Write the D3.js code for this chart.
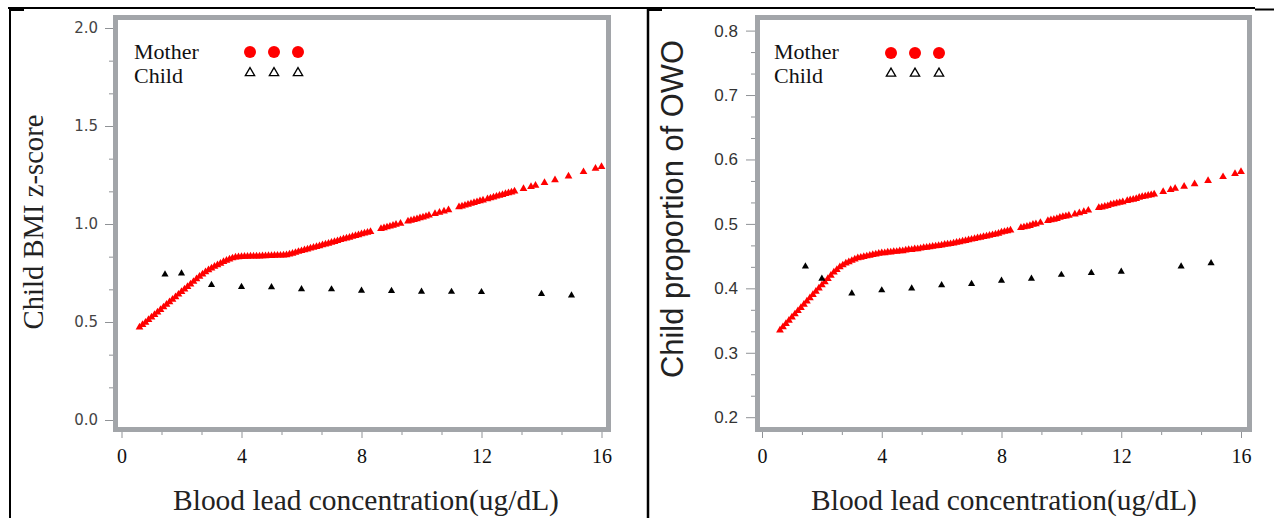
<!DOCTYPE html>
<html><head><meta charset="utf-8">
<script src="https://cdn.jsdelivr.net/npm/d3@7"></script>
<style>body{margin:0;background:#fff}svg{display:block}</style>
</head><body><svg id="c" width="1274" height="518"></svg>
<script>
// ---------------- DATA ----------------
const xTicks = [0, 4, 8, 12, 16];
const xTickLabels = ["0", "4", "8", "12", "16"];
const bmiTicks = [0.0, 0.5, 1.0, 1.5, 2.0];
const bmiTickLabels = ["0.0", "0.5", "1.0", "1.5", "2.0"];
const owoTicks = [0.2, 0.3, 0.4, 0.5, 0.6, 0.7, 0.8];
const owoTickLabels = ["0.2", "0.3", "0.4", "0.5", "0.6", "0.7", "0.8"];
const seriesNames = ["Mother", "Child"];

// Mother blood lead concentration (ug/dL)
const motherLead = [
  0.6,0.7,0.8,0.9,1.0,1.1,1.2,1.3,1.4,1.5,
  1.6,1.7,1.8,1.9,2.0,2.1,2.2,2.3,2.4,2.5,
  2.6,2.7,2.8,2.9,3.0,3.1,3.2,3.3,3.4,3.5,
  3.6,3.7,3.8,3.9,4.0,4.1,4.2,4.3,4.4,4.5,
  4.6,4.7,4.8,4.9,5.0,5.1,5.2,5.3,5.4,5.5,
  5.6,5.7,5.8,5.9,6.0,6.1,6.2,6.3,6.4,6.5,
  6.6,6.7,6.8,6.9,7.0,7.1,7.2,7.3,7.4,7.5,
  7.6,7.7,7.8,7.9,8.0,8.1,8.2,8.3,
  8.65,8.75,8.85,8.95,9.05,9.15,9.3,9.55,9.65,9.75,
  9.85,9.95,10.05,10.15,10.25,10.45,10.6,10.75,10.9,11.25,
  11.35,11.45,11.55,11.65,11.75,11.85,11.95,12.05,12.2,12.3,
  12.4,12.5,12.6,12.7,12.8,12.9,13.0,13.1,13.4,13.65,
  13.8,14.1,14.45,14.9,15.4,15.8,16.0
];
// Child BMI z-score predicted by mother's lead
const motherBMI = [
  .473,.486,.498,.511,.524,.537,.550,.563,.576,.589,
  .602,.615,.628,.641,.654,.667,.680,.693,.706,.719,
  .732,.744,.755,.765,.774,.783,.791,.799,.807,.814,
  .820,.826,.830,.832,.833,.834,.834,.835,.835,.836,
  .836,.837,.837,.838,.838,.839,.840,.840,.841,.842,
  .846,.850,.854,.859,.863,.867,.871,.876,.880,.884,
  .888,.893,.897,.901,.906,.910,.914,.919,.923,.927,
  .931,.936,.940,.944,.949,.953,.957,.961,
  .976,.980,.984,.988,.992,.997,1.003,1.014,1.018,1.022,
  1.026,1.031,1.035,1.039,1.044,1.052,1.059,1.065,1.072,1.087,
  1.091,1.095,1.100,1.104,1.108,1.113,1.117,1.121,1.128,1.132,
  1.136,1.141,1.145,1.149,1.154,1.158,1.162,1.167,1.180,1.190,
  1.197,1.210,1.225,1.244,1.266,1.283,1.292
];
// Child proportion of OWO predicted by mother's lead
const motherOWO = [
  .335,.340,.345,.350,.355,.360,.365,.370,.375,.380,
  .385,.390,.395,.400,.405,.410,.415,.420,.425,.429,
  .433,.436,.439,.441,.443,.445,.447,.448,.449,.450,
  .451,.452,.453,.454,.455,.455,.456,.456,.457,.457,
  .458,.458,.459,.460,.460,.461,.461,.462,.463,.4635,
  .464,.465,.4655,.466,.467,.468,.4685,.469,.470,.471,
  .472,.473,.474,.475,.476,.477,.478,.479,.480,.481,
  .482,.483,.484,.485,.487,.488,.489,.490,
  .494,.495,.496,.497,.499,.500,.502,.505,.506,.507,
  .508,.510,.511,.512,.513,.515,.517,.519,.521,.525,
  .526,.527,.528,.530,.531,.532,.533,.534,.536,.537,
  .538,.539,.541,.542,.543,.544,.545,.546,.550,.553,
  .555,.558,.562,.567,.573,.578,.581
];
// Child blood lead concentration (ug/dL)
const childLead = [1.45, 2, 3, 4, 5, 6, 7, 8, 9, 10, 11, 12, 14, 15];
const childBMI  = [.743,.748,.689,.679,.678,.668,.667,.660,.659,.655,.654,.653,.643,.636];
const childOWO  = [.434,.415,.392,.397,.400,.405,.407,.412,.415,.421,.424,.426,.434,.439];

// ---------------- DRAW ----------------
const svg = d3.select('#c');
const SERIF = "'Liberation Serif','Times New Roman',serif";
const SANS = "'Liberation Sans',Arial,sans-serif";
const FRAME = "#a2a5a9";
const TICK = "#8f9296";

// table borders
const bl = svg.append('g').attr('stroke', '#000').attr('fill', 'none');
bl.append('line').attr('x1', 8).attr('x2', 1255).attr('y1', 8).attr('y2', 8).attr('stroke-width', 2);
bl.append('line').attr('x1', 1255).attr('x2', 1274).attr('y1', 9.5).attr('y2', 9.5).attr('stroke-width', 2);
bl.append('line').attr('x1', 10).attr('x2', 10).attr('y1', 7).attr('y2', 518).attr('stroke-width', 2);
bl.append('line').attr('x1', 9).attr('x2', 24).attr('y1', 10).attr('y2', 10).attr('stroke-width', 2);
bl.append('line').attr('x1', 648).attr('x2', 648).attr('y1', 7).attr('y2', 518).attr('stroke-width', 2.5);
bl.append('line').attr('x1', 647).attr('x2', 662).attr('y1', 10).attr('y2', 10).attr('stroke-width', 2);

function fit(sel, target) {
  const w = sel.node().getComputedTextLength();
  const fs = parseFloat(sel.attr('font-size'));
  sel.attr('font-size', (fs * target / w).toFixed(2));
}

function minorValues(majors, n) {
  const out = [];
  for (let i = 0; i < majors.length - 1; i++) {
    const a = majors[i], b = majors[i + 1];
    for (let k = 1; k <= n; k++) out.push(a + (b - a) * k / (n + 1));
  }
  return out;
}

function panel(c) {
  const g = svg.append('g');
  const x = d3.scaleLinear().domain([0, 16]).range(c.xRange);
  const y = d3.scaleLinear().domain(c.yDomain).range(c.yRange);
  const f = c.frame; // outer box

  // frame
  g.append('rect').attr('x', f.x0 + 2.5).attr('y', f.y0 + 2.5)
    .attr('width', f.x1 - f.x0 - 5).attr('height', f.y1 - f.y0 - 5)
    .attr('fill', '#fff').attr('stroke', FRAME).attr('stroke-width', 5);

  // y axis
  const ya = g.append('g').attr('transform', `translate(${f.x0},0)`)
    .call(d3.axisLeft(y).tickValues(c.yTicks).tickSize(c.yTickSize)
      .tickPadding(c.yPad).tickFormat((d, i) => c.yLabels[i]));
  ya.select('.domain').remove();
  ya.selectAll('line').attr('stroke', TICK);
  ya.selectAll('text').attr('font-family', c.yFont).attr('font-size', c.yFontSize).attr('fill', c.yColor);
  const ym = g.append('g').attr('transform', `translate(${f.x0},0)`)
    .call(d3.axisLeft(y).tickValues(minorValues(c.yTicks, 2)).tickSize(4).tickFormat(''));
  ym.select('.domain').remove();
  ym.selectAll('line').attr('stroke', TICK);

  // x axis
  const xa = g.append('g').attr('transform', `translate(0,${f.y1})`)
    .call(d3.axisBottom(x).tickValues(xTicks).tickSize(6).tickPadding(11)
      .tickFormat((d, i) => xTickLabels[i]));
  xa.select('.domain').remove();
  xa.selectAll('line').attr('stroke', TICK);
  xa.selectAll('text').attr('font-family', SERIF).attr('font-size', 20).attr('fill', '#111');
  const xm = g.append('g').attr('transform', `translate(0,${f.y1})`)
    .call(d3.axisBottom(x).tickValues(minorValues(xTicks, 2)).tickSize(3).tickFormat(''));
  xm.select('.domain').remove();
  xm.selectAll('line').attr('stroke', TICK);

  // titles
  const xt = g.append('text').attr('x', c.xTitleX).attr('y', 510).attr('text-anchor', 'middle')
    .attr('font-family', SERIF).attr('font-size', 29).attr('fill', '#222')
    .text('Blood lead concentration(ug/dL)');
  fit(xt, 386);
  const yt = g.append('text').attr('text-anchor', 'middle')
    .attr('transform', `translate(${c.yTitleX},${c.yTitleY}) rotate(-90)`)
    .attr('font-family', c.yTitleFont).attr('font-size', 28).attr('fill', '#222')
    .text(c.yTitle);
  fit(yt, c.yTitleLen);

  // mother markers
  const tri = d3.symbol().type(d3.symbolTriangle);
  g.append('g').selectAll('path').data(motherLead).join('path')
    .attr('d', tri.size(26)())
    .attr('transform', (d, i) => `translate(${x(d)},${y(c.mother[i])})`)
    .attr('fill', '#ff0000');
  // child markers
  g.append('g').selectAll('path').data(childLead).join('path')
    .attr('d', d3.symbol().type(d3.symbolTriangle).size(22)())
    .attr('transform', (d, i) => `translate(${x(d)},${y(c.child[i])})`)
    .attr('fill', '#000');

  // legend
  const L = c.legend;
  const lg = g.append('g');
  lg.append('text').attr('x', L.x).attr('y', 59).attr('font-family', SERIF)
    .attr('font-size', 22).attr('fill', '#111').text(seriesNames[0]);
  lg.append('text').attr('x', L.x).attr('y', 83).attr('font-family', SERIF)
    .attr('font-size', 22).attr('fill', '#111').text(seriesNames[1]);
  L.marks.forEach(mx => {
    lg.append('circle').attr('cx', mx).attr('cy', L.dotY).attr('r', 6).attr('fill', '#ff0000');
    lg.append('path').attr('d', d3.symbol().type(d3.symbolTriangle).size(38)())
      .attr('transform', `translate(${mx},${L.triY})`)
      .attr('fill', '#fff').attr('stroke', '#000').attr('stroke-width', 1.3);
  });
}

panel({
  xRange: [121.5, 601.5], yDomain: [0, 2], yRange: [420, 28],
  frame: { x0: 113, y0: 15, x1: 611, y1: 432 },
  yTicks: bmiTicks, yLabels: bmiTickLabels, yTickSize: 8, yPad: 7,
  yFont: "'DejaVu Sans',Verdana,sans-serif", yFontSize: 15, yColor: '#444',
  xTitleX: 366, yTitle: 'Child BMI z-score', yTitleFont: SERIF,
  yTitleX: 43, yTitleY: 222, yTitleLen: 215,
  mother: motherBMI, child: childBMI,
  legend: { x: 134, marks: [250, 274, 298], dotY: 52, triY: 73 }
});
panel({
  xRange: [762, 1241], yDomain: [0.2, 0.8], yRange: [417.2, 30.6],
  frame: { x0: 755, y0: 15, x1: 1252, y1: 432 },
  yTicks: owoTicks, yLabels: owoTickLabels, yTickSize: 9, yPad: 8,
  yFont: SANS, yFontSize: 17, yColor: '#333',
  xTitleX: 1004, yTitle: 'Child proportion of OWO', yTitleFont: SANS,
  yTitleX: 683, yTitleY: 209, yTitleLen: 338,
  mother: motherOWO, child: childOWO,
  legend: { x: 774, marks: [891, 915, 939], dotY: 53, triY: 73.5 }
});
</script>
</body></html>
